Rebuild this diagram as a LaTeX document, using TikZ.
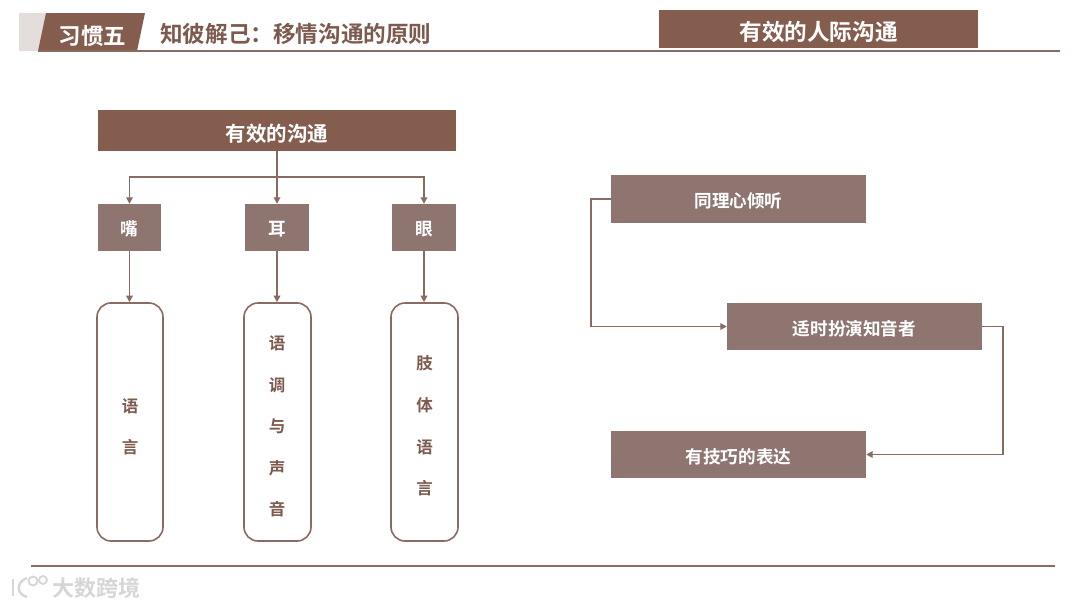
\documentclass[tikz,border=0pt]{standalone}
\usepackage{fontspec}
\setmainfont{Noto Sans CJK SC}
\newfontfamily\cjkb{Noto Sans CJK SC Bold}
\usetikzlibrary{arrows.meta}
\newcommand{\lowr}[2][2.5pt]{\raisebox{-#1}[\height][\depth]{#2}}
\definecolor{dk}{HTML}{855D4F}
\definecolor{md}{HTML}{8E7570}
\definecolor{ln}{HTML}{8A6B61}
\definecolor{ttl}{HTML}{7D5A4E}
\definecolor{gy}{HTML}{E3DEDC}
\definecolor{wm}{HTML}{D6D6D6}
\tikzset{
  x=1pt,y=-1pt,
  box/.style={fill=#1,text=white,inner sep=0pt,font=\cjkb\fontsize{17.6}{19}\selectfont,anchor=center},
  capsule/.style={rounded corners=14pt,draw=ln,line width=1.6pt,fill=white,inner sep=0pt,minimum width=66pt,minimum height=238pt},
  vtxt/.style={text=ttl,font=\cjkb\fontsize{16.5}{18}\selectfont,inner sep=0pt},
  arr/.style={draw=ln,line width=1.7pt,-{Triangle[length=6.5pt,width=6.5pt]}},
  rulex/.style={draw=ln,line width=1.4pt},
}
\begin{document}
\begin{tikzpicture}
\useasboundingbox (0,0) rectangle (1080,608);
\fill[white] (0,0) rectangle (1080,608);
% header
\fill[gy] (19,13) rectangle (46,50.5);
\fill[dk] (38,51) -- (46,13) -- (145,13) -- (137,51) -- cycle;
\node[text=white,font=\cjkb\fontsize{22.5}{24}\selectfont,inner sep=0pt] (h1) at (92.5,36) {习惯五};
\node[text=ttl,font=\cjkb\fontsize{22.6}{24}\selectfont,inner sep=0pt,anchor=west] (h2) at (160,33.5) {知彼解己：移情沟通的原则};
\node[box=dk,minimum width=319pt,minimum height=38pt,font=\cjkb\fontsize{22.6}{24}\selectfont] (h3) at (818.5,29) {\lowr[3pt]{有效的人际沟通}};
\coordinate (hl) at (38,51); \coordinate (hr) at (1060,51);
\draw[rulex] (hl) -- (hr);
% left tree
\node[box=dk,minimum width=358pt,minimum height=40.5pt,font=\cjkb\fontsize{20.5}{22}\selectfont] (top) at (277,130.7) {\lowr[3pt]{有效的沟通}};
\node[box=md,minimum width=63pt,minimum height=47pt] (m1) at (129.5,227.5) {\lowr[1.5pt]{嘴}};
\node[box=md,minimum width=64pt,minimum height=47pt] (m2) at (277,227.5) {\lowr[1.5pt]{耳}};
\node[box=md,minimum width=64pt,minimum height=47pt] (m3) at (424,227.5) {\lowr[1.5pt]{眼}};
\node[capsule] (c1) at (130,422) {};
\node[capsule,minimum width=67pt] (c2) at (277.5,422) {};
\node[capsule,minimum width=67pt] (c3) at (424.5,422) {};
\coordinate (bus) at (277,177);
\draw[arr] (top.south) -- (m2.north);
\draw[arr] (bus) -| (m1.north);
\draw[arr] (bus) -| (m3.north);
\draw[arr] (m1.south) -- (m1.south |- c1.north);
\draw[arr] (m2.south) -- (m2.south |- c2.north);
\draw[arr] (m3.south) -- (m3.south |- c3.north);
\node[vtxt] (a1) at (130,406) {语};
\node[vtxt] (a2) at (130,447.5) {言};
\node[vtxt] (b1) at (277,343) {语};
\node[vtxt] (b2) at (277,385) {调};
\node[vtxt] (b3) at (277,426) {与};
\node[vtxt] (b4) at (277,468) {声};
\node[vtxt] (b5) at (277,509) {音};
\node[vtxt] (d1) at (424.5,363.5) {肢};
\node[vtxt] (d2) at (424.5,405.5) {体};
\node[vtxt] (d3) at (424.5,447.5) {语};
\node[vtxt] (d4) at (424.5,488.5) {言};
% right flow
\node[box=md,minimum width=255pt,minimum height=48pt] (r1) at (738.5,199) {\lowr[2pt]{同理心倾听}};
\node[box=md,minimum width=255pt,minimum height=47pt] (r2) at (854.5,326.5) {\lowr[2pt]{适时扮演知音者}};
\node[box=md,minimum width=255pt,minimum height=47pt] (r3) at (738.5,454.5) {\lowr[2pt]{有技巧的表达}};
\coordinate (tl) at (591,199);
\coordinate (tr) at (1003,326.5);
\draw[arr] (r1.west) -- (tl) |- (r2.west);
\draw[arr] (r2.east) -- (tr) |- (r3.east);
% footer
\coordinate (fl) at (31,566); \coordinate (fr) at (1055,566);
\draw[rulex] (fl) -- (fr);
\draw[wm,line width=2.4pt] (13,579) -- (13,596);
\draw[wm,line width=2.4pt] (27,578) .. controls (16,582) and (16,594) .. (27,597);
\draw[wm,line width=1.8pt] (33,581) circle (4.5pt);
\draw[wm,line width=1.8pt] (43,580) circle (4pt);
\node[text=wm,font=\cjkb\fontsize{22}{24}\selectfont,inner sep=0pt,anchor=west] (wmk) at (52,588) {大数跨境};
\end{tikzpicture}
\end{document}
